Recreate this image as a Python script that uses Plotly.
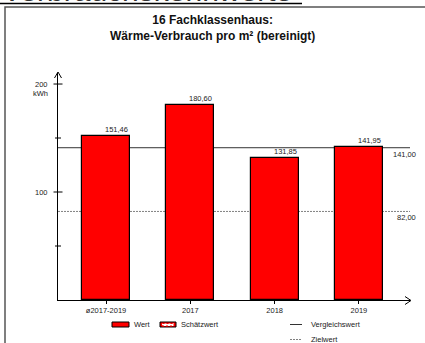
import plotly.graph_objects as go

# data
categories = ["ø2017-2019", "2017", "2018", "2019"]
values = [151.46, 180.60, 131.85, 141.95]
ref_names = ["Vergleichswert", "Zielwert"]
ref_values = [141.00, 82.00]
y_major_ticks = [100, 200]
y_minor_ticks = [50, 150]
title_lines = ["16 Fachklassenhaus:", "Wärme-Verbrauch pro m² (bereinigt)"]
header_text = "Verbrauchskennwerte"
unit_text = "kWh"

W, H = 425, 343
ML, MR, MT, MB = 58, 15, 73, 43
PW, PH = W - ML - MR, H - MT - MB
FONT = "Arial, Liberation Sans, sans-serif"
TXT = "#222222"
BAR_COLOR = "#FF0000"
BAR_W = 0.57
Y_MAX = 210.2


def px_x(px):
    return (px - ML) / PW


def px_y(py):
    return (H - MB - py) / PH


def de(v):
    return f"{v:.2f}".replace(".", ",")


fig = go.Figure()
fig.add_trace(go.Bar(
    x=list(range(len(categories))), y=values, width=BAR_W,
    marker=dict(color=BAR_COLOR, line=dict(color="black", width=1.2)),
    showlegend=False, hoverinfo="skip",
))

shapes = []
annotations = []

# reference lines (behind bars)
ref_styles = [dict(color="#333333", width=1, dash="solid"),
              dict(color="#808080", width=1, dash="2px,1px")]
for v, st in zip(ref_values, ref_styles):
    shapes.append(dict(type="line", xref="paper", yref="y", x0=0, x1=1, y0=v, y1=v,
                       line=st, layer="below"))
    annotations.append(dict(xref="paper", yref="y", x=px_x(418), y=v, text=de(v),
                            xanchor="right", yanchor="top", showarrow=False,
                            font=dict(size=7.5, color=TXT)))

# value labels
for i, v in enumerate(values):
    annotations.append(dict(x=i + BAR_W / 2, y=v, text=de(v), xanchor="right",
                            yanchor="bottom", showarrow=False,
                            font=dict(size=7.5, color=TXT)))

# y ticks and labels
for v in y_major_ticks + y_minor_ticks:
    half = 4.5 if v in y_major_ticks else 3
    shapes.append(dict(type="line", xref="paper", yref="y", x0=px_x(58 - half),
                       x1=px_x(58 + half), y0=v, y1=v, line=dict(color="black", width=1)))
for v in y_major_ticks:
    annotations.append(dict(xref="paper", yref="y", x=px_x(50), y=v, text=str(v),
                            xanchor="right", yanchor="middle", showarrow=False,
                            font=dict(size=7.5, color=TXT)))
annotations.append(dict(xref="paper", yref="paper", x=px_x(50), y=px_y(93.5), text=unit_text,
                        xanchor="right", yanchor="middle", showarrow=False,
                        font=dict(size=7.5, color=TXT)))

# axis arrowheads
shapes.append(dict(type="path", xref="paper", yref="paper",
                   path=f"M{px_x(54.5)},{px_y(78)} L{px_x(58)},{px_y(72)} L{px_x(61.5)},{px_y(78)}",
                   line=dict(color="black", width=1)))
shapes.append(dict(type="path", xref="paper", yref="paper",
                   path=f"M{px_x(405)},{px_y(296.5)} L{px_x(411)},{px_y(300.5)} L{px_x(405)},{px_y(304.5)}",
                   line=dict(color="black", width=1)))

# frame and cut header
shapes.append(dict(type="rect", xref="paper", yref="paper", x0=px_x(5), x1=px_x(440),
                   y0=px_y(360), y1=px_y(7), line=dict(color="#555555", width=1.5)))
shapes.append(dict(type="line", xref="paper", yref="paper", x0=px_x(0), x1=px_x(302),
                   y0=px_y(3.5), y1=px_y(3.5), line=dict(color="black", width=1.5)))
annotations.append(dict(xref="paper", yref="paper", x=px_x(0), y=px_y(9), text=header_text,
                        xanchor="left", yanchor="bottom", showarrow=False,
                        font=dict(size=30, color="#333333")))

# title
annotations.append(dict(xref="paper", yref="paper", x=px_x(212.5), y=px_y(28),
                        text="<b>" + "<br>".join(title_lines) + "</b>",
                        xanchor="center", yanchor="middle", showarrow=False,
                        font=dict(size=12, color="#111111")))

# legend (drawn by hand to match the layout)
LEG_Y1, LEG_Y2 = 324.5, 339.5
shapes.append(dict(type="rect", xref="paper", yref="paper", x0=px_x(112), x1=px_x(129),
                   y0=px_y(327), y1=px_y(322), fillcolor=BAR_COLOR, line=dict(color="black", width=1)))
annotations.append(dict(xref="paper", yref="paper", x=px_x(132), y=px_y(LEG_Y1), text="Wert",
                        xanchor="left", yanchor="middle", showarrow=False,
                        font=dict(size=7.5, color=TXT)))
shapes.append(dict(type="rect", xref="paper", yref="paper", x0=px_x(160), x1=px_x(176),
                   y0=px_y(327), y1=px_y(322), fillcolor=BAR_COLOR, line=dict(color="black", width=1)))
shapes.append(dict(type="rect", xref="paper", yref="paper", x0=px_x(162), x1=px_x(174),
                   y0=px_y(326), y1=px_y(323.5), fillcolor="white",
                   line=dict(color=BAR_COLOR, width=1, dash="2px,2px")))
annotations.append(dict(xref="paper", yref="paper", x=px_x(179), y=px_y(LEG_Y1), text="Schätzwert",
                        xanchor="left", yanchor="middle", showarrow=False,
                        font=dict(size=7.5, color=TXT)))
for name, st, ly in zip(ref_names, ref_styles, [LEG_Y1, LEG_Y2]):
    shapes.append(dict(type="line", xref="paper", yref="paper", x0=px_x(290), x1=px_x(302),
                       y0=px_y(ly), y1=px_y(ly), line=st))
    annotations.append(dict(xref="paper", yref="paper", x=px_x(309), y=px_y(ly), text=name,
                            xanchor="left", yanchor="middle", showarrow=False,
                            font=dict(size=7.5, color=TXT)))

fig.update_layout(
    width=W, height=H,
    margin=dict(l=ML, r=MR, t=MT, b=MB, pad=0),
    paper_bgcolor="white", plot_bgcolor="white",
    font=dict(family=FONT, size=7.5, color=TXT),
    showlegend=False, hovermode=False,
    shapes=shapes, annotations=annotations,
    bargap=0,
)
fig.update_xaxes(
    range=[-0.57, 3.606], tickvals=list(range(len(categories))), ticktext=categories,
    showline=True, linecolor="black", linewidth=1, showgrid=False, zeroline=False,
    ticks="outside", ticklen=3, tickcolor="black", tickwidth=1,
    tickfont=dict(size=7.5, color=TXT, family=FONT), fixedrange=True,
)
fig.update_yaxes(
    range=[0, Y_MAX], showline=True, linecolor="black", linewidth=1,
    showgrid=False, zeroline=False, showticklabels=False, ticks="", fixedrange=True,
)

# the page body has a default 8px margin; drop it so the figure sits at the corner
fig.write_html("out.html", config=dict(displayModeBar=False),
               post_script="document.body.style.margin='0';document.body.style.overflow='hidden';")
